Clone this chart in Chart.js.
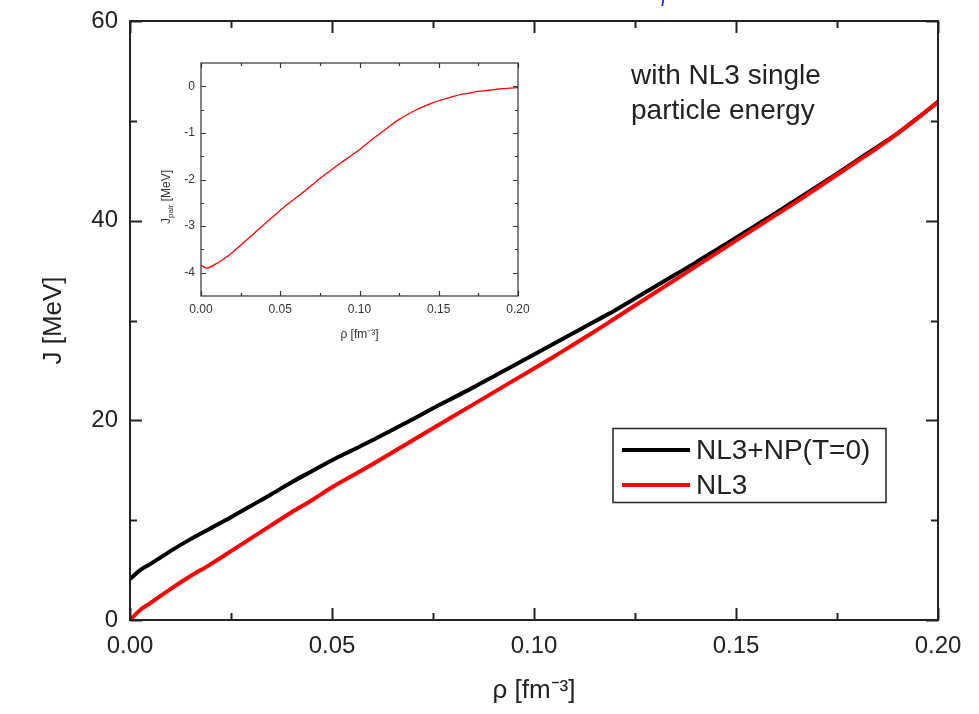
<!DOCTYPE html>
<html>
<head>
<meta charset="utf-8">
<script src="https://cdn.jsdelivr.net/npm/chart.js@4.4.1/dist/chart.umd.min.js"></script>
<style>
  html, body { margin: 0; padding: 0; background: #fff; }
  #wrap { position: relative; width: 979px; height: 714px; overflow: hidden; }
  #mainChart { position: absolute; left: 0; top: 0; }
  #insetChart { position: absolute; left: 140px; top: 50px; }
</style>
</head>
<body>
<div id="wrap">
  <canvas id="mainChart" width="979" height="714" style="width:979px;height:714px"></canvas>
  <canvas id="insetChart" width="400" height="300" style="width:400px;height:300px"></canvas>
</div>
<script>
// main panel: symmetry energy J vs density
const rho = [0, 0.0025, 0.005, 0.01, 0.015, 0.02, 0.025, 0.03, 0.035, 0.04, 0.045,
  0.05, 0.055, 0.06, 0.065, 0.07, 0.075, 0.08, 0.085, 0.09, 0.095,
  0.1, 0.105, 0.11, 0.115, 0.12, 0.125, 0.13, 0.135, 0.14, 0.145,
  0.15, 0.155, 0.16, 0.165, 0.17, 0.175, 0.18, 0.185, 0.19, 0.195, 0.2];
const jNL3NP = [4.1, 5.0, 5.6, 6.9, 8.1, 9.2, 10.3, 11.45, 12.6, 13.8, 14.9,
  16.0, 17.0, 18.0, 19.05, 20.1, 21.2, 22.25, 23.3, 24.4, 25.5,
  26.6, 27.7, 28.8, 29.9, 31.0, 32.2, 33.4, 34.6, 35.8, 37.05,
  38.3, 39.55, 40.8, 42.1, 43.4, 44.7, 46.05, 47.4, 48.75, 50.3, 51.9];
const jNL3 = [0, 1.0, 1.7, 3.1, 4.4, 5.6, 6.9, 8.2, 9.5, 10.8, 12.0,
  13.3, 14.45, 15.6, 16.8, 18.0, 19.2, 20.4, 21.6, 22.8, 24.0,
  25.2, 26.4, 27.65, 28.9, 30.2, 31.5, 32.8, 34.1, 35.4, 36.7,
  38.0, 39.3, 40.6, 41.9, 43.25, 44.6, 45.95, 47.3, 48.75, 50.3, 51.9];
const seriesLabels = ['NL3+NP(T=0)', 'NL3'];
const xTicks = [0, 0.05, 0.1, 0.15, 0.2];
const xMinor = [0.025, 0.075, 0.125, 0.175];
const yTicks = [0, 20, 40, 60];
const yMinor = [10, 30, 50];

// inset: pairing contribution J_pair
const rhoInset = [0, 0.0035, 0.01, 0.015, 0.02, 0.025, 0.03, 0.035, 0.04, 0.045,
  0.05, 0.055, 0.06, 0.065, 0.07, 0.075, 0.08, 0.085, 0.09, 0.095,
  0.1, 0.105, 0.11, 0.115, 0.12, 0.125, 0.13, 0.135, 0.14, 0.145,
  0.15, 0.155, 0.16, 0.165, 0.17, 0.175, 0.18, 0.185, 0.19, 0.195, 0.2];
const jPair = [-3.84, -3.90, -3.80, -3.69, -3.56, -3.41, -3.26, -3.11, -2.96, -2.81,
  -2.66, -2.52, -2.39, -2.26, -2.12, -1.98, -1.85, -1.72, -1.60, -1.48,
  -1.36, -1.22, -1.09, -0.96, -0.83, -0.71, -0.61, -0.52, -0.44, -0.37,
  -0.31, -0.26, -0.21, -0.17, -0.14, -0.11, -0.09, -0.07, -0.05, -0.04, -0.03];
const insetYTicks = [0, -1, -2, -3, -4];
const insetYMinor = [-0.5, -1.5, -2.5, -3.5];

const FONT = '"Liberation Sans", Arial, Helvetica, sans-serif';

const toPts = (xs, ys) => xs.map((x, i) => ({ x: x, y: ys[i] }));

// box frame with inward ticks on all four sides
const frameTicks = {
  id: 'frameTicks',
  afterDraw(chart, args, o) {
    const { ctx, chartArea: a, scales: { x, y } } = chart;
    ctx.save();
    ctx.strokeStyle = o.color;
    ctx.lineWidth = o.lineWidth;
    ctx.beginPath();
    const tx = (vals, len) => vals.forEach(v => {
      const p = Math.round(x.getPixelForValue(v)) + 0.5;
      ctx.moveTo(p, a.bottom); ctx.lineTo(p, a.bottom - len);
      ctx.moveTo(p, a.top); ctx.lineTo(p, a.top + len);
    });
    const ty = (vals, len) => vals.forEach(v => {
      const p = Math.round(y.getPixelForValue(v)) + 0.5;
      ctx.moveTo(a.left, p); ctx.lineTo(a.left + len, p);
      ctx.moveTo(a.right, p); ctx.lineTo(a.right - len, p);
    });
    tx(o.xMajor, o.majorLen); tx(o.xMinor, o.minorLen);
    ty(o.yMajor, o.majorLen); ty(o.yMinor, o.minorLen);
    ctx.stroke();
    ctx.strokeRect(a.left, a.top, a.right - a.left, a.bottom - a.top);
    ctx.restore();
  }
};

// boxed legend and the note text
const mainExtras = {
  id: 'mainExtras',
  afterDraw(chart) {
    const ctx = chart.ctx;
    ctx.save();
    ctx.strokeStyle = '#222';
    ctx.lineWidth = 1.5;
    ctx.strokeRect(613, 428.5, 273, 74);
    ctx.font = '28px ' + FONT;
    ctx.textBaseline = 'middle';
    ctx.fillStyle = '#222';
    chart.data.datasets.forEach((ds, i) => {
      const yy = 450 + i * 35;
      ctx.strokeStyle = ds.borderColor;
      ctx.lineWidth = 4;
      ctx.beginPath();
      ctx.moveTo(622, yy); ctx.lineTo(690, yy);
      ctx.stroke();
      ctx.fillText(ds.label, 696, yy + 1);
    });
    ctx.textBaseline = 'alphabetic';
    ctx.fillText('with NL3 single', 631, 84);
    ctx.fillText('particle energy', 631, 119);
    ctx.fillStyle = '#1a1aff';
    ctx.font = 'italic 20px ' + FONT;
    ctx.fillText('l', 661, 6);
    ctx.restore();
  }
};

new Chart(document.getElementById('mainChart'), {
  type: 'line',
  data: {
    datasets: [{
      label: seriesLabels[0],
      data: toPts(rho, jNL3NP),
      borderColor: '#000000',
      borderWidth: 4,
      order: 2
    }, {
      label: seriesLabels[1],
      data: toPts(rho, jNL3),
      borderColor: '#ff0000',
      borderWidth: 4,
      order: 1
    }]
  },
  options: {
    responsive: false,
    animation: false,
    layout: { padding: { top: 21, right: 41, left: 0, bottom: 0 } },
    elements: { point: { radius: 0 }, line: { cubicInterpolationMode: 'monotone', borderCapStyle: 'round' } },
    plugins: {
      legend: { display: false },
      tooltip: { enabled: false },
      frameTicks: {
        color: '#222', lineWidth: 2, majorLen: 12, minorLen: 7,
        xMajor: xTicks, xMinor: xMinor, yMajor: yTicks, yMinor: yMinor
      }
    },
    scales: {
      x: {
        type: 'linear',
        min: 0,
        max: 0.2,
        afterBuildTicks: s => { s.ticks = xTicks.map(v => ({ value: v })); },
        afterFit: s => { s.height = 94; s.paddingLeft = 0; s.paddingRight = 0; },
        grid: { display: false, drawTicks: false },
        border: { display: false },
        ticks: {
          padding: 12, color: '#222', autoSkip: false, maxRotation: 0,
          font: { family: FONT, size: 24 },
          callback: v => v.toFixed(2)
        },
        title: {
          display: true, text: 'ρ [fm\u207B\u00B3]', color: '#222',
          font: { family: FONT, size: 26 }, padding: { bottom: 8 }
        }
      },
      y: {
        min: 0,
        max: 60,
        afterBuildTicks: s => { s.ticks = yTicks.map(v => ({ value: v })); },
        afterFit: s => { s.width = 130; s.paddingTop = 0; s.paddingBottom = 0; },
        grid: { display: false, drawTicks: false },
        border: { display: false },
        ticks: {
          padding: 12, color: '#222',
          font: { family: FONT, size: 24 }
        },
        title: {
          display: true, text: 'J [MeV]', color: '#222',
          font: { family: FONT, size: 26 }, padding: { top: 38 }
        }
      }
    }
  },
  plugins: [frameTicks, mainExtras]
});

// inset y title with subscript
const insetTitle = {
  id: 'insetTitle',
  afterDraw(chart) {
    const ctx = chart.ctx;
    ctx.save();
    ctx.translate(27, 147);
    ctx.rotate(-Math.PI / 2);
    ctx.fillStyle = '#333';
    ctx.textBaseline = 'middle';
    const big = '12px ' + FONT, small = '8px ' + FONT;
    ctx.font = big; const w1 = ctx.measureText('J').width; const w3 = ctx.measureText(' [MeV]').width;
    ctx.font = small; const w2 = ctx.measureText('pair').width;
    let x0 = -(w1 + w2 + w3) / 2;
    ctx.font = big; ctx.fillText('J', x0, 0); x0 += w1;
    ctx.font = small; ctx.fillText('pair', x0, 4); x0 += w2;
    ctx.font = big; ctx.fillText(' [MeV]', x0, 0);
    ctx.restore();
  }
};

new Chart(document.getElementById('insetChart'), {
  type: 'line',
  data: {
    datasets: [{
      label: 'J_pair',
      data: toPts(rhoInset, jPair),
      borderColor: '#ff0000',
      borderWidth: 1.3
    }]
  },
  options: {
    responsive: false,
    animation: false,
    layout: { padding: { top: 13, right: 22, left: 0, bottom: 0 } },
    elements: { point: { radius: 0 }, line: { cubicInterpolationMode: 'monotone' } },
    plugins: {
      legend: { display: false },
      tooltip: { enabled: false },
      frameTicks: {
        color: '#333', lineWidth: 1.2, majorLen: 5, minorLen: 3,
        xMajor: xTicks, xMinor: xMinor, yMajor: insetYTicks, yMinor: insetYMinor
      }
    },
    scales: {
      x: {
        type: 'linear',
        min: 0,
        max: 0.2,
        afterBuildTicks: s => { s.ticks = xTicks.map(v => ({ value: v })); },
        afterFit: s => { s.height = 54; s.paddingLeft = 0; s.paddingRight = 0; },
        grid: { display: false, drawTicks: false },
        border: { display: false },
        ticks: {
          padding: 6, color: '#333', autoSkip: false, maxRotation: 0,
          font: { family: FONT, size: 12 },
          callback: v => v.toFixed(2)
        },
        title: {
          display: true, text: 'ρ [fm\u207B\u00B3]', color: '#333',
          font: { family: FONT, size: 12 }, padding: { bottom: 8 }
        }
      },
      y: {
        min: -4.5,
        max: 0.5,
        afterBuildTicks: s => { s.ticks = insetYTicks.map(v => ({ value: v })); },
        afterFit: s => { s.width = 61; s.paddingTop = 0; s.paddingBottom = 0; },
        grid: { display: false, drawTicks: false },
        border: { display: false },
        ticks: {
          padding: 6, color: '#333',
          font: { family: FONT, size: 12 }
        }
      }
    }
  },
  plugins: [frameTicks, insetTitle]
});
</script>
</body>
</html>
